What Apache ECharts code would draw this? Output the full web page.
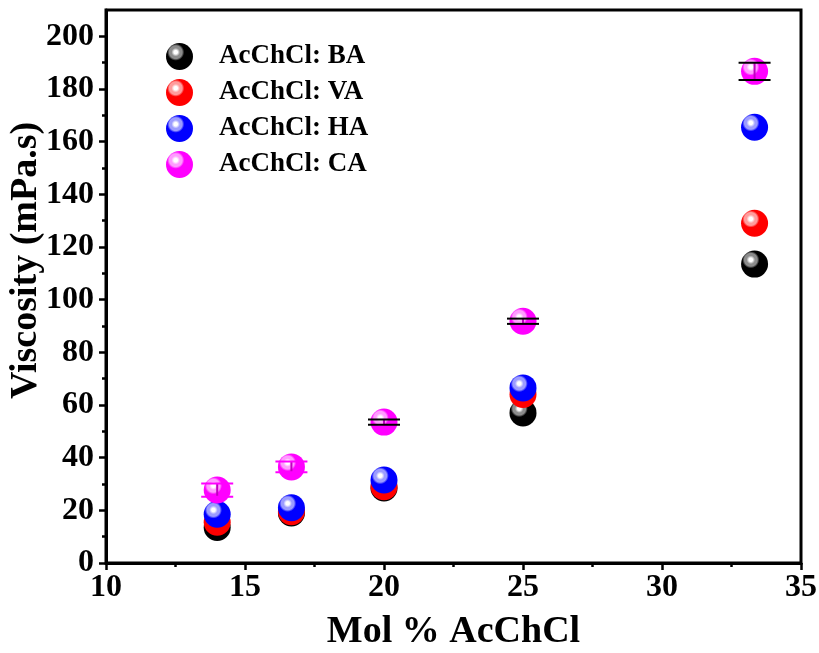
<!DOCTYPE html>
<html>
<head>
<meta charset="utf-8">
<script src="https://cdn.jsdelivr.net/npm/echarts@6/dist/echarts.min.js"></script>
<style>
  html, body { margin: 0; padding: 0; background: #fff; }
  #chart { width: 819px; height: 653px; }
</style>
</head>
<body>
<div id="chart"></div>
<script>
// data
const molPct = [14, 16.67, 20, 25, 33.33];
const viscBA = [13.5, 19, 28.5, 57, 113.5];
const viscVA = [15.5, 19.5, 29, 64, 129];
const viscHA = [18.5, 21, 31.5, 66.5, 165.5];
const viscCA = [27.7, 36.5, 53.5, 91.8, 186.7];
const errCA = [2.5, 2, 1, 1, 3.3];
const seriesNames = ['AcChCl: BA', 'AcChCl: VA', 'AcChCl: HA', 'AcChCl: CA'];
const yMajor = [0, 20, 40, 60, 80, 100, 120, 140, 160, 180, 200];
const yMinor = [10, 30, 50, 70, 90, 110, 130, 150, 170, 190];

const font = '"Liberation Serif", "Times New Roman", serif';
const capColors = ['#ff00ff', '#ff00ff', '#000', '#000', '#000'];

// glossy sphere look
const sphere = (base, ring) => ({
    type: 'radial', x: 0.36, y: 0.34, r: 0.66,
    colorStops: [
        {offset: 0, color: '#ffffff'},
        {offset: 0.1, color: '#ffffff'},
        {offset: 0.24, color: ring},
        {offset: 0.36, color: ring},
        {offset: 0.48, color: base},
        {offset: 1, color: base}
    ]
});

const pairs = (ys) => molPct.map((x, i) => [x, ys[i]]);

const chart = echarts.init(document.getElementById('chart'));

const scatter = (name, ys, base, ring) => ({
    name: name,
    type: 'scatter',
    data: pairs(ys),
    symbolSize: 27,
    itemStyle: {color: sphere(base, ring), opacity: 1}
});

const option = {
    animation: false,
    backgroundColor: '#fff',
    grid: {
        left: 106, right: 18, top: 10, bottom: 90,
        outerBoundsMode: 'none',
        containLabel: false,
        show: true, borderColor: '#000', borderWidth: 3
    },
    legend: {
        orient: 'vertical',
        left: 161, top: 38,
        itemWidth: 27, itemHeight: 27, itemGap: 9,
        icon: 'circle',
        textStyle: {
            fontFamily: font, fontWeight: 'bold', fontSize: 27, color: '#000',
            padding: [0, 0, 0, 21]
        },
        data: seriesNames
    },
    xAxis: {
        type: 'value',
        min: 10, max: 35, interval: 5,
        name: 'Mol % AcChCl',
        nameLocation: 'middle',
        nameGap: 50,
        nameTextStyle: {fontFamily: font, fontWeight: 'bold', fontSize: 38, color: '#000'},
        axisLine: {lineStyle: {color: '#000', width: 3}},
        axisTick: {length: 7, lineStyle: {color: '#000', width: 2.5}},
        minorTick: {show: true, splitNumber: 2, length: 4, lineStyle: {color: '#000', width: 2.5}},
        axisLabel: {fontFamily: font, fontWeight: 'bold', fontSize: 32, color: '#000', margin: 9},
        splitLine: {show: false}
    },
    yAxis: [
        {
            type: 'value',
            min: 0, max: 210,
            name: 'Viscosity (mPa.s)',
            nameLocation: 'middle',
            nameGap: 61,
            nameMoveOverlap: false,
            nameTextStyle: {
                fontFamily: font, fontWeight: 'bold', fontSize: 38, color: '#000',
                padding: [0, 0, 0, 52]
            },
            axisLine: {show: true, lineStyle: {color: '#000', width: 3}},
            axisTick: {show: true, length: 7, customValues: yMajor, lineStyle: {color: '#000', width: 2.5}},
            axisLabel: {
                customValues: yMajor,
                fontFamily: font, fontWeight: 'bold', fontSize: 32, color: '#000', margin: 12
            },
            splitLine: {show: false}
        },
        {
            type: 'value',
            min: 0, max: 210,
            position: 'left',
            axisLine: {show: false},
            axisTick: {show: true, length: 4, customValues: yMinor, lineStyle: {color: '#000', width: 2.5}},
            axisLabel: {show: false},
            splitLine: {show: false}
        }
    ],
    series: [
        scatter(seriesNames[0], viscBA, '#000000', '#8c8c8c'),
        scatter(seriesNames[1], viscVA, '#ff0000', '#ff9c9c'),
        scatter(seriesNames[2], viscHA, '#0000ff', '#9c9cff'),
        scatter(seriesNames[3], viscCA, '#ff00ff', '#ff9cff'),
        {
            type: 'custom',
            name: 'errCA',
            silent: true,
            z: 5,
            data: molPct.map((x, i) => [x, viscCA[i] - errCA[i], viscCA[i] + errCA[i]]),
            renderItem: (params, api) => {
                const lo = api.coord([api.value(0), api.value(1)]);
                const hi = api.coord([api.value(0), api.value(2)]);
                const hw = 16;
                const c = capColors[params.dataIndex];
                const line = (x1, y1, x2, y2, col) => ({
                    type: 'line',
                    shape: {x1, y1, x2, y2},
                    style: {stroke: col, lineWidth: 2}
                });
                return {
                    type: 'group',
                    children: [
                        line(lo[0], lo[1], hi[0], hi[1], '#c000c0'),
                        line(lo[0] - hw, lo[1], lo[0] + hw, lo[1], c),
                        line(hi[0] - hw, hi[1], hi[0] + hw, hi[1], c)
                    ]
                };
            }
        }
    ]
};

chart.setOption(option);
</script>
</body>
</html>
